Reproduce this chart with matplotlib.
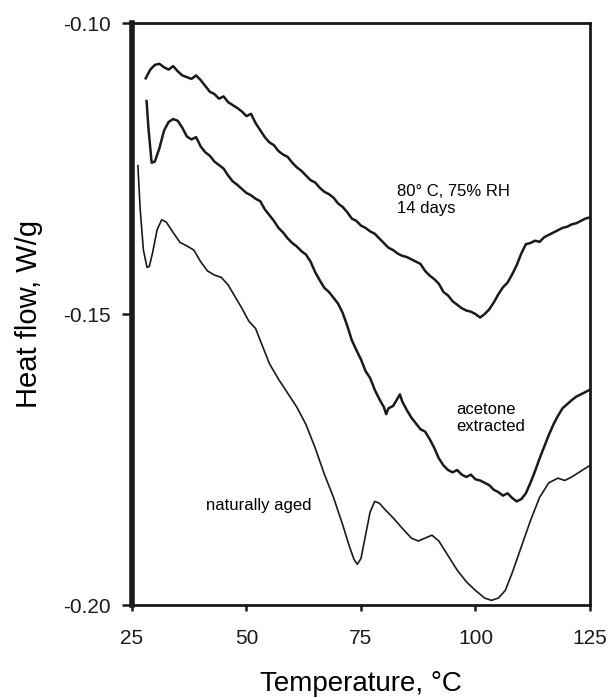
import matplotlib
matplotlib.use("Agg")
import matplotlib.pyplot as plt

plt.rcParams['font.family'] = ['Liberation Sans', 'DejaVu Sans']

# 80 C, 75% RH, 14 days
t_hum = [28, 29, 30, 31, 32, 33, 34, 35, 36, 37, 38, 39, 40, 41, 42, 43, 44, 45, 46, 47,
         48, 49, 50, 51, 52, 53, 54, 55, 56, 57, 58, 59, 60, 61, 62, 63, 64, 65, 66, 67,
         68, 69, 70, 71, 72, 73, 74, 75, 76, 77, 78, 79, 80, 81, 82, 83, 84, 85, 86, 87,
         88, 89, 90, 91, 92, 93, 94, 95, 96, 97, 98, 99, 100, 101, 102, 103, 104, 105, 106, 107,
         108, 109, 110, 111, 112, 113, 114, 115, 116, 117, 118, 119, 120, 121, 122, 123, 124, 125]
hf_hum = [-0.1095, -0.1080, -0.1072, -0.1070, -0.1076, -0.1080, -0.1074, -0.1083, -0.1090, -0.1093,
          -0.1096, -0.1090, -0.1098, -0.1108, -0.1118, -0.1122, -0.1130, -0.1126, -0.1136, -0.1141,
          -0.1146, -0.1152, -0.1160, -0.1156, -0.1172, -0.1184, -0.1196, -0.1205, -0.1210, -0.1220,
          -0.1226, -0.1230, -0.1240, -0.1248, -0.1254, -0.1262, -0.1270, -0.1274, -0.1283, -0.1290,
          -0.1294, -0.1300, -0.1310, -0.1316, -0.1325, -0.1336, -0.1340, -0.1348, -0.1352, -0.1358,
          -0.1362, -0.1370, -0.1378, -0.1386, -0.1390, -0.1396, -0.1400, -0.1402, -0.1406, -0.1410,
          -0.1414, -0.1426, -0.1434, -0.1440, -0.1448, -0.1462, -0.1468, -0.1478, -0.1484, -0.1490,
          -0.1494, -0.1496, -0.1500, -0.1506, -0.1500, -0.1492, -0.1480, -0.1466, -0.1454, -0.1446,
          -0.1432, -0.1416, -0.1396, -0.1380, -0.1378, -0.1374, -0.1376, -0.1368, -0.1364, -0.1360,
          -0.1356, -0.1352, -0.1350, -0.1346, -0.1344, -0.1340, -0.1336, -0.1334]

# acetone extracted
t_ace = [28.2, 28.6, 29.3, 30, 31, 32, 33, 34, 35, 36, 37, 38, 39, 40, 41, 42, 43, 44, 45, 46,
         47, 48, 49, 50, 51, 52, 53, 54, 55, 56, 57, 58, 59, 60, 61, 62, 63, 64, 65, 66,
         67, 68, 69, 70, 71, 72, 73, 74, 75, 76, 77, 78, 79, 80, 80.5, 81, 82, 83, 83.5, 84,
         85, 86, 87, 88, 89, 90, 91, 92, 93, 94, 95, 96, 97, 98, 99, 100, 101, 102, 103, 104,
         105, 106, 107, 108, 109, 110, 111, 112, 113, 114, 115, 116, 117, 118, 119, 120, 121, 122, 123, 124, 125]
hf_ace = [-0.1134, -0.1180, -0.1240, -0.1238, -0.1215, -0.1185, -0.1170, -0.1165, -0.1168, -0.1180,
          -0.1195, -0.1200, -0.1196, -0.1212, -0.1222, -0.1228, -0.1238, -0.1244, -0.1250, -0.1262,
          -0.1272, -0.1278, -0.1285, -0.1292, -0.1296, -0.1302, -0.1306, -0.1320, -0.1330, -0.1340,
          -0.1352, -0.1360, -0.1370, -0.1378, -0.1384, -0.1392, -0.1398, -0.1410, -0.1428, -0.1442,
          -0.1455, -0.1462, -0.1472, -0.1482, -0.1498, -0.1520, -0.1545, -0.1562, -0.1578, -0.1598,
          -0.1610, -0.1630, -0.1646, -0.1660, -0.1672, -0.1662, -0.1658, -0.1645, -0.1638, -0.1650,
          -0.1665, -0.1678, -0.1688, -0.1698, -0.1702, -0.1715, -0.1730, -0.1748, -0.1760, -0.1768,
          -0.1772, -0.1768, -0.1776, -0.1780, -0.1776, -0.1784, -0.1786, -0.1790, -0.1794, -0.1802,
          -0.1806, -0.1812, -0.1808, -0.1816, -0.1822, -0.1818, -0.1808, -0.1790, -0.1770, -0.1748,
          -0.1728, -0.1708, -0.1690, -0.1675, -0.1662, -0.1655, -0.1648, -0.1642, -0.1638, -0.1634, -0.1630]

# naturally aged
t_nat = [26.3, 26.8, 27.5, 28.3, 28.8, 29.5, 30.5, 31.5, 32.5, 34, 35.5, 37, 38.5, 40, 41.5, 43,
         44.5, 46, 47.5, 49, 50.5, 52, 53.5, 55, 57, 59, 61, 63, 65, 67, 69, 71, 72.5, 73.5, 74.2,
         75, 76, 77, 78, 79, 80.5, 82, 84, 86, 87.5, 89, 90.5, 92, 94, 96, 98, 100, 102, 103.5,
         105, 106.5, 108, 110, 112, 114, 116, 118, 119.5, 121, 123, 125]
hf_nat = [-0.1245, -0.1320, -0.1390, -0.1420, -0.1418, -0.1395, -0.1355, -0.1338, -0.1342, -0.1360,
          -0.1377, -0.1383, -0.1390, -0.1410, -0.1426, -0.1433, -0.1437, -0.1450, -0.1470, -0.1490,
          -0.1512, -0.1525, -0.1555, -0.1585, -0.1612, -0.1636, -0.1660, -0.1690, -0.1730, -0.1775,
          -0.1815, -0.1862, -0.1900, -0.1922, -0.1930, -0.1920, -0.1880, -0.1840, -0.1822, -0.1825,
          -0.1838, -0.1850, -0.1868, -0.1885, -0.1890, -0.1885, -0.1880, -0.1890, -0.1915, -0.1940,
          -0.1960, -0.1975, -0.1988, -0.1992, -0.1988, -0.1975, -0.1945, -0.1900, -0.1855, -0.1815,
          -0.1790, -0.1782, -0.1786, -0.1780, -0.1770, -0.1760]

x_ticks = [25, 50, 75, 100, 125]
y_ticks = [-0.20, -0.15, -0.10]
y_tick_labels = ['-0.20', '-0.15', '-0.10']

fig = plt.figure(figsize=(6.08, 6.98), dpi=100)
ax = fig.add_axes([0.217, 0.1332, 0.7534, 0.8338])

ax.plot(t_hum, hf_hum, color='#1a1a1a', lw=1.8)
ax.plot(t_ace, hf_ace, color='#1a1a1a', lw=1.8)
ax.plot(t_nat, hf_nat, color='#1a1a1a', lw=1.2)

ax.set_xlim(25, 125)
ax.set_ylim(-0.20, -0.10)
ax.set_xticks(x_ticks)
ax.set_xticklabels([str(v) for v in x_ticks])
ax.set_yticks(y_ticks)
ax.set_yticklabels(y_tick_labels)
ax.tick_params(axis='x', direction='out', length=4, width=1.8, labelsize=15, pad=13, colors='#1a1a1a')
ax.tick_params(axis='y', direction='out', length=7, width=1.8, labelsize=15, pad=8, colors='#1a1a1a')

for s in ['top', 'right', 'bottom']:
    ax.spines[s].set_linewidth(2)
    ax.spines[s].set_color('#1a1a1a')
ax.spines['left'].set_linewidth(4)
ax.spines['left'].set_color('#1a1a1a')

ax.set_xlabel('Temperature, °C', fontsize=20, labelpad=17)
ax.set_ylabel('Heat flow, W/g', fontsize=21, labelpad=15)

ax.text(82.9, -0.1277, '80° C, 75% RH\n14 days', fontsize=12, va='top', ha='left', linespacing=1.15)
ax.text(95.8, -0.1652, 'acetone\nextracted', fontsize=12, va='top', ha='left', linespacing=1.15)
ax.text(41.2, -0.1829, 'naturally aged', fontsize=12, va='center', ha='left')

fig.savefig('out.png', dpi=100)
